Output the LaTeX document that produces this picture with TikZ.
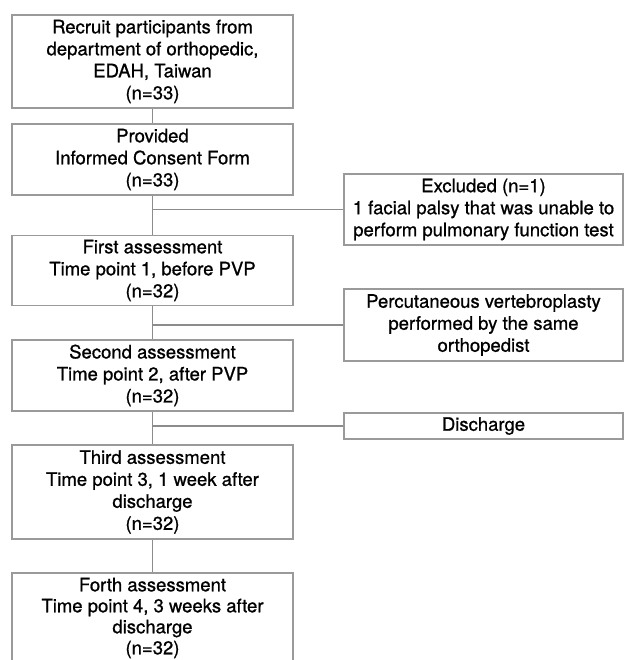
\documentclass[tikz,border=0pt]{standalone}
\usepackage{fontspec}
\setmainfont{TeX Gyre Heros}
\newfontfamily\medfont[FakeBold=0.9]{TeX Gyre Heros}
\definecolor{boxgray}{HTML}{9A9A9A}
\definecolor{linegray}{HTML}{8C8C8C}
\tikzset{box/.style={draw=boxgray,line width=1.1pt,minimum width=281pt,
  align=center,inner sep=0pt,font=\medfont\fontsize{18.5}{22}\selectfont},
 side/.style={box,minimum width=279pt},
 link/.style={draw=linegray,line width=1.1pt},
 }

\begin{document}
\begin{tikzpicture}[x=1pt,y=-1pt]
    \clip (0,0) rectangle (624,660);
    \fill[white] (0,0) rectangle (624,660);
    % main column
    \node[box,minimum height=93pt] (recruit) at (152.5,61.5)
        {Recruit participants from\\department of orthopedic,\\EDAH, Taiwan\\(n=33)};
    \node[box,minimum height=71pt] (consent) at (152.5,159.5)
        {Provided\\Informed Consent Form\\(n=33)};
    \node[box,minimum height=70pt] (first) at (152.5,270.5)
        {First assessment\\Time point 1, before PVP\\(n=32)};
    \node[box,minimum height=71pt] (second) at (152.5,375.5)
        {Second assessment\\Time point 2, after PVP\\(n=32)};
    \node[box,minimum height=94pt] (third) at (152.5,492)
        {Third assessment\\Time point 3, 1 week after\\discharge\\(n=32)};
    \node[box,minimum height=94pt] (forth) at (152.5,620)
        {};
    \node[align=center,inner sep=0pt,font=\medfont\fontsize{18.5}{21}\selectfont]
        (forthtext) at (152.5,618)
        {Forth assessment\\Time point 4, 3 weeks after\\discharge\\(n=32)};
    % side boxes
    \node[side,minimum height=71pt] (excluded) at (483.5,209.5)
        {Excluded (n=1)\\1 facial palsy that was unable to\\perform pulmonary function test};
    \node[side,minimum height=72pt] (pvp) at (483.5,325)
        {Percutaneous vertebroplasty\\performed by the same\\orthopedist};
    \node[side,minimum height=26pt] (discharge) at (483.5,426)
        {Discharge};
    % connectors
    \draw[link] (recruit) -- (consent);
    \draw[link] (consent) -- (first);
    \draw[link] (first) -- (second);
    \draw[link] (second) -- (third);
    \draw[link] (third) -- (forth);
    \draw[link] (consent.south |- excluded.west) -- (excluded.west);
    \draw[link] (first.south |- pvp.west) -- (pvp.west);
    \draw[link] (second.south |- discharge.west) -- (discharge.west);
\end{tikzpicture}
\end{document}
